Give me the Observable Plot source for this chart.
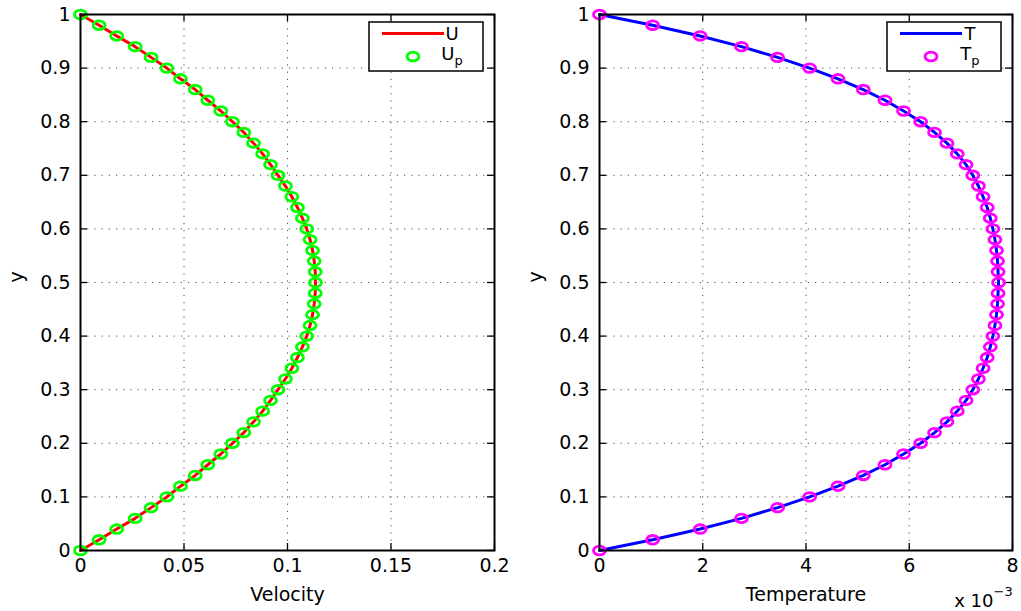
<!DOCTYPE html>
<html>
<head>
<meta charset="utf-8">
<script src="https://cdn.jsdelivr.net/npm/d3@7"></script>
<script src="https://cdn.jsdelivr.net/npm/@observablehq/plot@0.6"></script>
<style>
  body { margin: 0; background: #fff; }
  #fig { position: relative; width: 1021px; height: 611px; overflow: hidden; }
  #fig svg { position: absolute; top: 0; }
</style>
</head>
<body>
<div id="fig"></div>
<script>
// Channel height samples
const yPos = [
  0.00, 0.02, 0.04, 0.06, 0.08, 0.10, 0.12, 0.14, 0.16, 0.18,
  0.20, 0.22, 0.24, 0.26, 0.28, 0.30, 0.32, 0.34, 0.36, 0.38,
  0.40, 0.42, 0.44, 0.46, 0.48, 0.50, 0.52, 0.54, 0.56, 0.58,
  0.60, 0.62, 0.64, 0.66, 0.68, 0.70, 0.72, 0.74, 0.76, 0.78,
  0.80, 0.82, 0.84, 0.86, 0.88, 0.90, 0.92, 0.94, 0.96, 0.98, 1.00
];

// Velocity profile U(y)
const velocity = [
  0.0000, 0.0090, 0.0175, 0.0264, 0.0341, 0.0417, 0.0483, 0.0554, 0.0615, 0.0678,
  0.0734, 0.0789, 0.0836, 0.0880, 0.0918, 0.0954, 0.0990, 0.1021, 0.1048, 0.1072,
  0.1093, 0.1109, 0.1121, 0.1129, 0.1134, 0.1135, 0.1134, 0.1129, 0.1121, 0.1109,
  0.1093, 0.1072, 0.1048, 0.1021, 0.0990, 0.0954, 0.0918, 0.0880, 0.0836, 0.0789,
  0.0734, 0.0678, 0.0615, 0.0554, 0.0483, 0.0417, 0.0341, 0.0264, 0.0175, 0.0090, 0.0000
];

// Temperature profile T(y), in units of 1e-3
const temperature = [
  0.00, 1.03, 1.95, 2.75, 3.45, 4.07, 4.62, 5.11, 5.53, 5.89,
  6.22, 6.49, 6.73, 6.93, 7.10, 7.23, 7.34, 7.43, 7.51, 7.57,
  7.62, 7.66, 7.69, 7.71, 7.72, 7.73, 7.72, 7.71, 7.69, 7.66,
  7.62, 7.57, 7.51, 7.43, 7.34, 7.23, 7.10, 6.93, 6.73, 6.49,
  6.22, 5.89, 5.53, 5.11, 4.62, 4.07, 3.45, 2.75, 1.95, 1.03, 0.00
];

const velocityTicks = [0, 0.05, 0.1, 0.15, 0.2];
const temperatureTicks = [0, 2, 4, 6, 8];
const yTicks = [0, 0.1, 0.2, 0.3, 0.4, 0.5, 0.6, 0.7, 0.8, 0.9, 1];

const velocityLegend = [{base: "U", sub: ""}, {base: "U", sub: "p"}];
const temperatureLegend = [{base: "T", sub: ""}, {base: "T", sub: "p"}];

const FONT = "DejaVu Sans";
const fmt = d3.format("~g");

// Open marker drawn as a slightly wide ellipse
const ellipse = {
  draw(context, size) {
    const r = Math.sqrt(size / Math.PI), rx = r * 1.4, ry = r, k = 0.5523;
    context.moveTo(rx, 0);
    context.bezierCurveTo(rx, ry * k, rx * k, ry, 0, ry);
    context.bezierCurveTo(-rx * k, ry, -rx, ry * k, -rx, 0);
    context.bezierCurveTo(-rx, -ry * k, -rx * k, -ry, 0, -ry);
    context.bezierCurveTo(rx * k, -ry, rx, -ry * k, rx, 0);
    context.closePath();
  }
};

function panel({left, width, marginLeft, marginRight, xDomain, xTicks, xValues,
                lineColor, dotColor, xLabel, legend, extra = []}) {
  const height = 611, marginTop = 14, marginBottom = 61;
  const fw = width - marginLeft - marginRight;
  const fh = height - marginTop - marginBottom;
  const tickLen = 7;
  const rows = yPos.map((y, i) => ({y, v: xValues[i]}));
  const grid = {stroke: "#333", strokeOpacity: 0.85, strokeWidth: 1, strokeDasharray: "1.2,6"};

  const svg = Plot.plot({
    width, height, marginTop, marginRight, marginBottom, marginLeft,
    style: {fontFamily: FONT, fontSize: "19px", color: "#000", background: "transparent", overflow: "visible"},
    x: {domain: xDomain},
    y: {domain: [0, 1]},
    marks: [
      Plot.gridX(xTicks, grid),
      Plot.gridY(yTicks, grid),
      // inward ticks on all four sides
      Plot.tickX(xTicks, {insetTop: fh - tickLen, stroke: "#000", strokeWidth: 1.3}),
      Plot.tickX(xTicks, {insetBottom: fh - tickLen, stroke: "#000", strokeWidth: 1.3}),
      Plot.tickY(yTicks, {insetRight: fw - tickLen, stroke: "#000", strokeWidth: 1.3}),
      Plot.tickY(yTicks, {insetLeft: fw - tickLen, stroke: "#000", strokeWidth: 1.3}),
      Plot.axisX(xTicks, {tickSize: 0, tickPadding: 8, label: null, fontSize: 19, tickFormat: fmt}),
      Plot.axisY(yTicks, {tickSize: 0, tickPadding: 10, label: null, fontSize: 19, tickFormat: fmt}),
      Plot.line(rows, {x: "v", y: "y", stroke: lineColor, strokeWidth: 3}),
      Plot.dot(rows, {x: "v", y: "y", symbol: ellipse, r: 4.3, fill: "none", stroke: dotColor, strokeWidth: 2.8}),
      Plot.frame({stroke: "#000", strokeWidth: 2}),
      Plot.text([xLabel], {frameAnchor: "bottom", dy: 50, fontSize: 19}),
      Plot.text(["y"], {frameAnchor: "left", dx: -64, rotate: -90, fontSize: 19}),
      ...extra
    ]
  });
  svg.style.left = left + "px";

  // legend box in the upper-right corner of the frame
  const bw = 114, bh = 49;
  const bx = marginLeft + fw - 11 - bw, by = marginTop + 8;
  const g = d3.select(svg).append("g").attr("font-family", FONT).attr("font-size", 18);
  g.append("rect").attr("x", bx).attr("y", by).attr("width", bw).attr("height", bh)
    .attr("fill", "#fff").attr("stroke", "#000").attr("stroke-width", 1.5);
  g.append("line").attr("x1", bx + 13).attr("x2", bx + 75).attr("y1", by + 11.5).attr("y2", by + 11.5)
    .attr("stroke", lineColor).attr("stroke-width", 3);
  const ex = bx + 44, ey = by + 34.5;
  g.append("ellipse").attr("cx", ex).attr("cy", ey).attr("rx", 6).attr("ry", 4.3)
    .attr("fill", "none").attr("stroke", dotColor).attr("stroke-width", 2.8);
  legend.forEach((d, i) => {
    const t = g.append("text").attr("x", bx + 83).attr("y", by + (i === 0 ? 18 : 38));
    t.append("tspan").text(d.base);
    if (d.sub) t.append("tspan").attr("font-size", 13).attr("dy", 5).text(d.sub);
  });
  return svg;
}

const fig = document.getElementById("fig");

fig.append(panel({
  left: 0, width: 510, marginLeft: 80, marginRight: 16,
  xDomain: [0, 0.2], xTicks: velocityTicks, xValues: velocity,
  lineColor: "#ff0000", dotColor: "#00ff00", xLabel: "Velocity", legend: velocityLegend
}));

fig.append(panel({
  left: 519, width: 502, marginLeft: 80, marginRight: 9,
  xDomain: [0, 8], xTicks: temperatureTicks, xValues: temperature,
  lineColor: "#0000ff", dotColor: "#ff00ff", xLabel: "Temperature", legend: temperatureLegend,
  extra: [
    Plot.text(["x 10"], {frameAnchor: "bottom-right", dx: -19, dy: 56, textAnchor: "end", fontSize: 18}),
    Plot.text(["\u22123"], {frameAnchor: "bottom-right", dx: -19, dy: 45, textAnchor: "start", fontSize: 13})
  ]
}));
</script>
</body>
</html>
